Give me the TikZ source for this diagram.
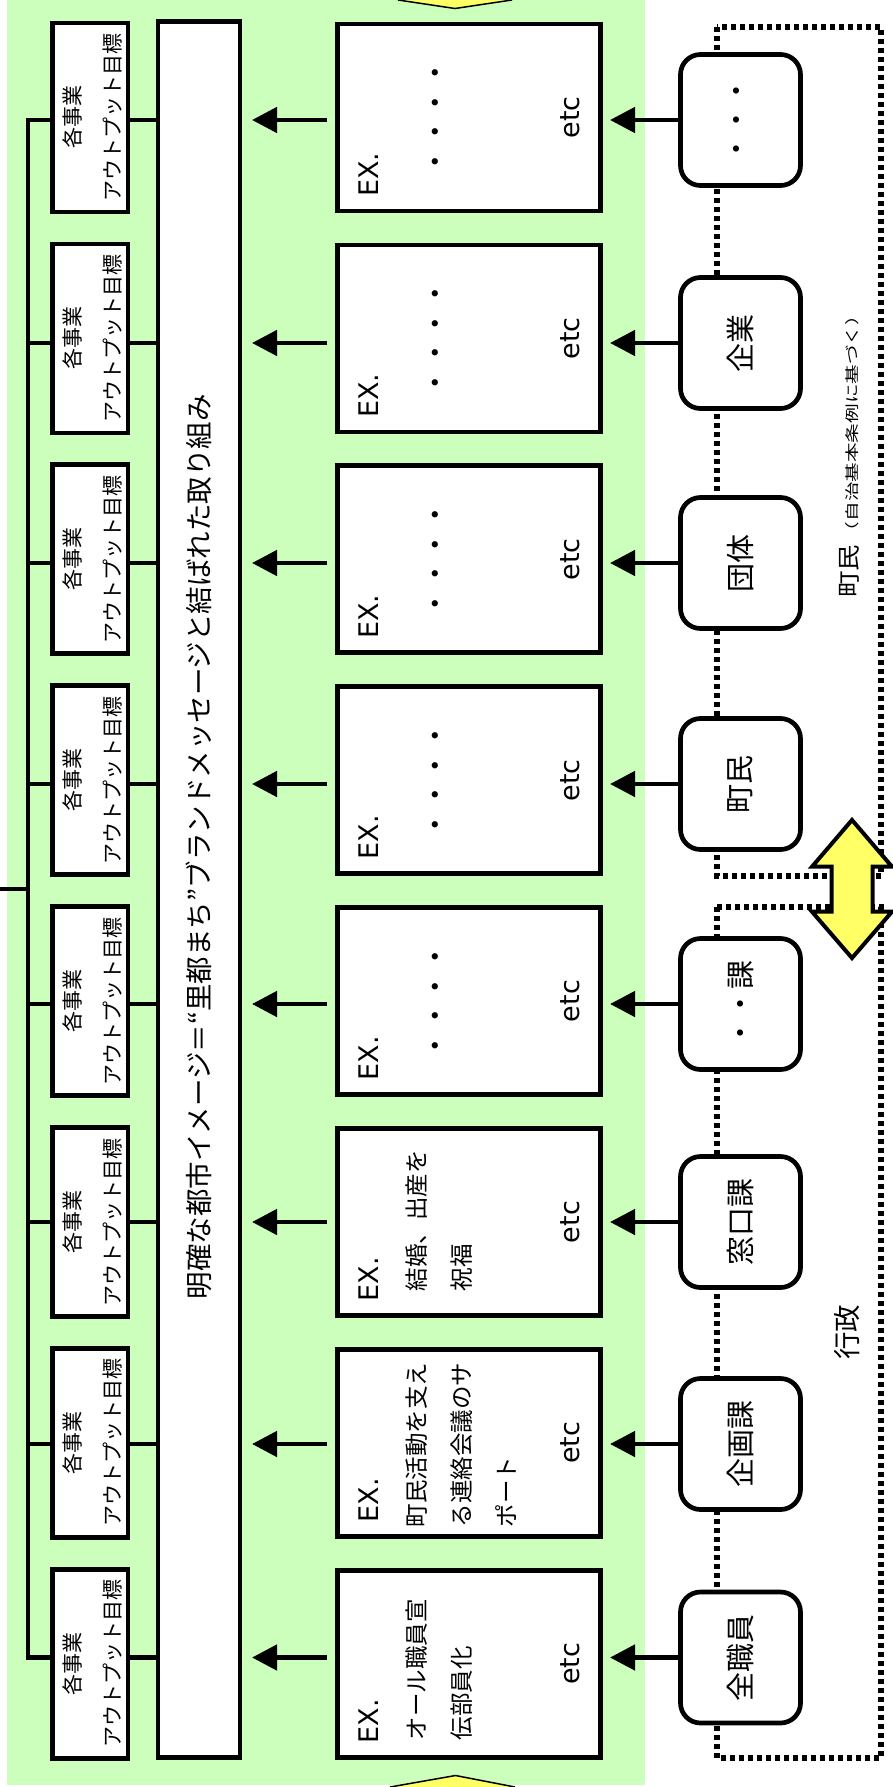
\documentclass[tikz,border=0pt]{standalone}
\usepackage{fontspec}
\setmainfont{DejaVu Sans}
\newfontfamily\jp{Noto Sans CJK JP}
\usepackage{graphicx}
\usetikzlibrary{arrows.meta,calc}
\definecolor{bggreen}{RGB}{204,255,187}
\definecolor{ayellow}{RGB}{255,255,102}
\begin{document}
\begin{tikzpicture}[x=1pt,y=-1pt,line join=miter,
  blk/.style={draw=black,line width=4.7pt,fill=white,outer sep=0pt,inner sep=0pt},
  sbox/.style={blk,minimum width=75.5pt,minimum height=189pt},
  exbox/.style={blk,minimum width=263pt,minimum height=187pt},
  rbox/.style={blk,rounded corners=20pt,minimum width=120pt,minimum height=131pt},
  bline/.style={line width=4.7pt},
  arr/.style={line width=4.7pt,-{Triangle[length=25pt,width=25pt]}},
  dotline/.style={line width=5.5pt,dash pattern=on 5pt off 4pt},
  jpt/.style={font=\jp\fontsize{#1}{#1}\selectfont,inner sep=0pt},
  lat/.style={font=\fontsize{27}{27}\selectfont,inner sep=0pt},
  stxt/.style={font=\jp\fontsize{21}{40}\selectfont,inner sep=0pt,align=center,rotate=90}
]
\useasboundingbox (0,0) rectangle (892,1787);
% background
\fill[bggreen] (7,0) rectangle (645,1784.5);
% partial yellow arrows at top and bottom
\fill[ayellow] (398,-1) -- (398,0) -- (455,8.5) -- (512,0) -- (512,-1) -- cycle;
\draw[line width=1.5pt] (398,0) -- (455,8.5) -- (512,0);
\fill[ayellow] (390,1788) -- (390,1787) -- (455.5,1775.5) -- (515,1787) -- (515,1788) -- cycle;
\draw[line width=1.5pt] (390,1787) -- (455.5,1775.5) -- (515,1787);
% dotted groups
\draw[dotline] (717,27) rectangle (881,876);
\draw[dotline] (717,907) rectangle (881,1758);
% central bar
\node[blk,minimum width=82pt,minimum height=1736pt] (bar) at (199,889.5) {};
\node[jpt=27.5,rotate=90] (bartext) at (199,846.5) {明確な都市イメージ＝“里都まち”ブランドメッセージと結ばれた取り組み};
% rows
\foreach \i/\yc/\ya/\lab in {1/117.5/120/{・・・},2/338.4/343/企業,3/559.3/563/団体,4/780.2/784/町民,5/1001.1/1004/・・課,6/1222/1222/窓口課,7/1442.9/1444/企画課,8/1663.8/1657.5/全職員}{
  \node[sbox] (s\i) at (90.25,\yc) {};
  \node[stxt] (st\i) at ($(s\i.center)+(2,0)$) {各事業\\アウトプット目標};
  \node[exbox] (ex\i) at (469,\yc) {};
  \node[lat,rotate=90,anchor=base west] (exl\i) at ($(ex\i.south west)+(40.5,-14)$) {EX.};
  \node[lat,rotate=90,anchor=base] (etc\i) at ($(ex\i.center)+(110,0)$) {etc};
  \node[rbox] (r\i) at (740.5,\ya) {\rotatebox{90}{\jp\fontsize{29}{29}\selectfont \lab}};
}
% dots in the first five boxes
\foreach \i in {1,...,5}{
  \node[jpt=29.5,rotate=90] (dots\i) at ($(ex\i.center)+(-30,0)$) {・・・・};
}
% example texts
\node[jpt=23.5,rotate=90,anchor=base west] (t6a) at ($(ex6.south west)+(88,-24)$) {結婚、出産を};
\node[jpt=23.5,rotate=90,anchor=base west] (t6b) at ($(ex6.south west)+(133,-24)$) {祝福};
\node[jpt=23.5,rotate=90,anchor=base west] (t7a) at ($(ex7.south west)+(88,-9)$) {町民活動を支え};
\node[jpt=23.5,rotate=90,anchor=base west] (t7b) at ($(ex7.south west)+(133,-9)$) {る連絡会議のサ};
\node[jpt=23.5,rotate=90,anchor=base west] (t7c) at ($(ex7.south west)+(178,-9)$) {ポート};
\node[jpt=23.5,rotate=90,anchor=base west] (t8a) at ($(ex8.south west)+(88,-17)$) {オール職員宣};
\node[jpt=23.5,rotate=90,anchor=base west] (t8b) at ($(ex8.south west)+(133,-17)$) {伝部員化};
% bracket
\coordinate (bk) at (28,0);
\coordinate (stub) at (0,889);
\draw[bline] (s1.west |- r1) -- (bk |- r1) -- (bk |- r8) -- (s8.west |- r8);
\foreach \i in {2,...,7}{\draw[bline] (s\i.west |- r\i) -- (bk |- r\i);}
\draw[bline] (stub) -- (bk |- stub);
% connectors
\foreach \i in {1,...,8}{
  \draw[bline] (s\i.east |- r\i) -- (bar.west |- r\i);
  \draw[arr,shorten >=9.5pt] (r\i.west) -- (ex\i.east |- r\i.west);
  \draw[arr,shorten <=10.5pt,shorten >=12pt] (ex\i.west |- r\i) -- (bar.east |- r\i);
}
% group labels
\node[jpt=23,rotate=90,anchor=base west] (chomin) at (857,598) {\scalebox{1.15}[1]{町民}\,\scalebox{1.4}[1]{\fontsize{14}{14}\selectfont （自治基本条例に基づく）}};
\node[jpt=27.5,rotate=90] (gyosei) at (847.5,1332) {行政};
% double arrow between groups
\draw[line width=4pt,fill=ayellow] (852,820) -- (892,866.7) -- (872.5,866.7) -- (872.5,911.7) -- (892,911.7) -- (852,958) -- (812,911.7) -- (831.5,911.7) -- (831.5,866.7) -- (812,866.7) -- cycle;
\end{tikzpicture}
\end{document}
